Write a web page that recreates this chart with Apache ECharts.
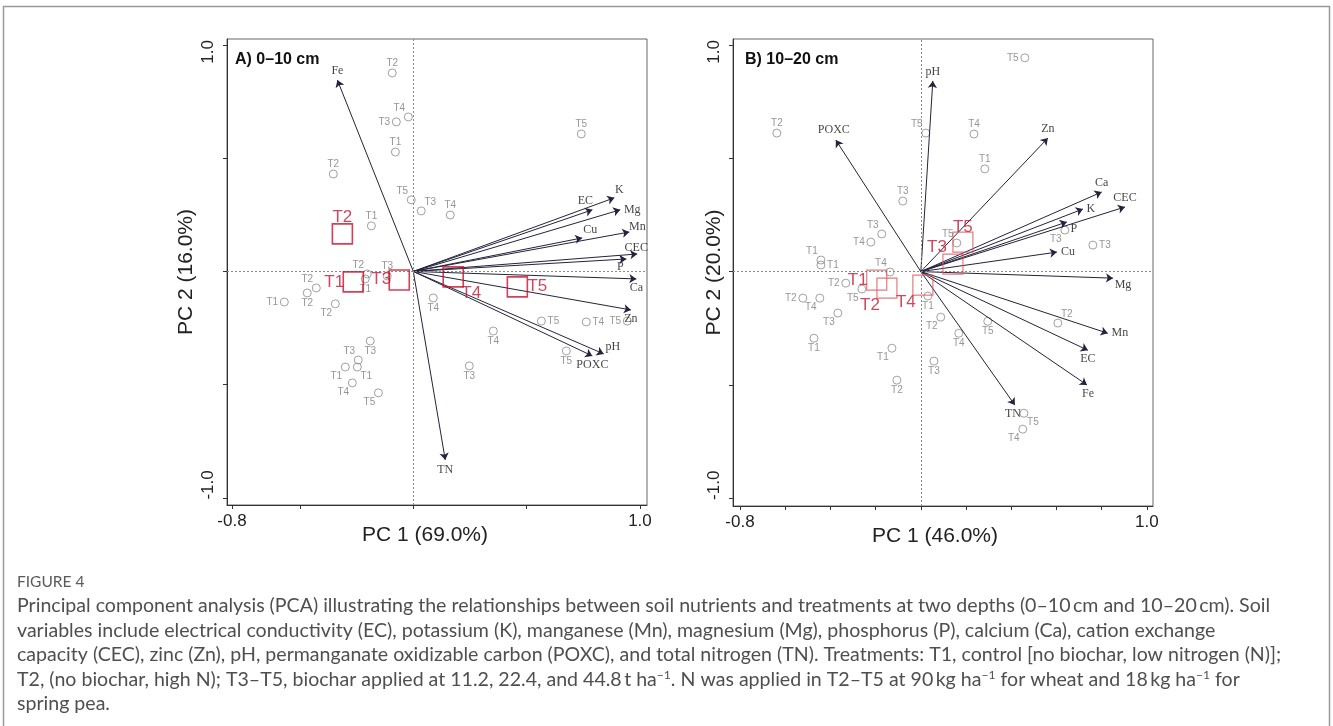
<!DOCTYPE html>
<html><head><meta charset="utf-8">
<script src="https://cdn.jsdelivr.net/npm/echarts@6/dist/echarts.min.js"></script>
<style>html,body{margin:0;padding:0;background:#fff}#c{width:1333px;height:726px}</style>
</head><body><div id="c"></div>
<script>
// ---------- Panel A (0–10 cm) ----------
const varNamesA = ['Fe','K','EC','Mg','Cu','Mn','CEC','P','Ca','Zn','pH','POXC','TN'];
const loadA1 = [-0.335,0.887,0.790,0.913,0.745,0.953,0.988,0.940,0.984,0.960,0.840,0.790,0.141];
const loadA2 = [0.845,0.325,0.272,0.272,0.148,0.174,0.077,0.055,-0.033,-0.170,-0.364,-0.373,-0.832];

const treatA = ['T2','T4','T3','T1','T2','T5','T3','T1','T4','T5','T2','T1','T3','T2','T2','T1','T2','T3','T3','T1','T1','T4','T5','T4','T4','T3','T5','T4','T5','T5'];
const pc1A = [-0.093,-0.022,-0.075,-0.079,-0.353,-0.009,0.035,-0.185,0.163,0.741,-0.203,-0.212,-0.115,-0.428,-0.468,-0.569,-0.344,-0.190,-0.243,-0.300,-0.247,-0.269,-0.154,0.088,0.353,0.247,0.565,0.763,0.944,0.675];
const pc2A = [0.876,0.682,0.660,0.527,0.430,0.316,0.267,0.201,0.249,0.607,-0.011,-0.033,-0.020,-0.073,-0.095,-0.135,-0.143,-0.307,-0.391,-0.422,-0.422,-0.492,-0.536,-0.117,-0.263,-0.417,-0.219,-0.223,-0.219,-0.351];

const centNames = ['T1','T2','T3','T4','T5'];
const centA1 = [-0.265,-0.313,-0.062,0.176,0.459];
const centA2 = [-0.046,0.166,-0.038,-0.024,-0.068];

// ---------- Panel B (10–20 cm) ----------
const varNamesB = ['pH','POXC','Zn','Ca','CEC','K','P','Cu','Mg','Mn','EC','Fe','TN'];
const loadB1 = [0.053,-0.376,0.562,0.800,0.903,0.717,0.646,0.602,0.850,0.827,0.739,0.735,0.416];
const loadB2 = [0.841,0.580,0.589,0.351,0.285,0.276,0.219,0.086,-0.029,-0.272,-0.347,-0.500,-0.589];

const treatB = ['T2','T5','T3','T3','T4','T1','T1','T4','T5','T4','T1','T5','T3','T3','T2','T5','T2','T4','T3','T1','T1','T2','T1','T2','T4','T3','T5','T2','T5','T4'];
const pc1B = [-0.637,0.022,-0.080,-0.173,-0.221,-0.442,-0.442,-0.137,0.460,0.235,0.283,0.159,0.637,0.761,-0.332,-0.261,-0.522,-0.447,-0.367,-0.473,-0.128,-0.106,0.031,0.088,0.168,0.058,0.296,0.606,0.456,0.451];
const pc2B = [0.611,0.611,0.311,0.166,0.130,0.051,0.029,-0.002,0.943,0.607,0.453,0.126,0.183,0.117,-0.051,-0.077,-0.117,-0.117,-0.183,-0.294,-0.338,-0.479,-0.108,-0.201,-0.272,-0.395,-0.219,-0.227,-0.625,-0.695];

const centB1 = [-0.195,-0.150,0.142,0.009,0.186];
const centB2 = [-0.038,-0.073,0.033,-0.060,0.130];

// ---------- axis ticks / labels ----------
const xTickValsA = [-0.8,-0.5,0,0.5,1.0];
const xTickValsB = [-0.8,-0.6,-0.4,-0.2,0,0.2,0.4,0.6,0.8,1.0];
const xLabelVals = [-0.8,1.0];
const yTickVals = [-1.0,-0.5,0,0.5,1.0];
const yLabelVals = [-1.0,1.0];
const axisNames = {ax:'PC 1 (69.0%)', ay:'PC 2 (16.0%)', bx:'PC 1 (46.0%)', by:'PC 2 (20.0%)'};
const panelTitles = ['A) 0–10 cm','B) 10–20 cm'];

// ---------- label placement (style only, px offsets) ----------
const varLabOffA = [[0,-9],[5,-8],[-7,-9],[12,0],[8,-8],[8,-5],[-1,-6],[-6,8],[0,9],[0,9],[9,-7],[0,9],[0,10]];
const varLabOffB = [[0,-9],[-2,-10],[0,-9],[0,-9],[0,-9],[8,0],[7,7],[11,0],[10,7],[12,0],[0,9],[1,9],[-2,9]];
const posA = ['t','tl','l','t','t','tl','tr','t','t','t','tl','b','t','tl','b','l','bl','b','tl','bl','br','bl','bl','b','b','b','r','r','l','b'];
const posB = ['t','tl','t','tl','l','tl','r','tl','l','t','t','tl','bl','r','l','bl','l','bl','bl','b','bl','b','b','bl','b','b','b','tr','br','bl'];
const centLabOffA = [[-19,0],[0,-17],[-18,-1],[18,16],[20,-1]];
const centLabOffB = [[-19,0],[-17,17],[-16,-17],[-17,17],[0,-15]];
const posMap = {t:[0,-10],b:[0,10],l:[-12,0],r:[12,0],tl:[-9,-9],tr:[9,-9],bl:[-9,9],br:[9,9]};

const SANS = 'Liberation Sans, Arial, sans-serif';
const SERIF = 'Liberation Serif, Times New Roman, serif';

function mkX(gi, min, max, name, ticks, shift){
  return {type:'value', gridIndex:gi, min, max,
    axisLine:{show:true, onZero:false, lineStyle:{color:'#333', width:1}},
    axisTick:{show:true, customValues:ticks, length:4, lineStyle:{color:'#333'}},
    axisLabel:{show:true, customValues:xLabelVals, formatter:v=>v.toFixed(1), fontSize:17, color:'#222', fontFamily:SANS, margin:8},
    splitLine:{show:false},
    name, nameLocation:'middle', nameGap:20, nameMoveOverlap:false,
    nameTextStyle:{fontSize:21, color:'#222', fontFamily:SANS, padding:[0,shift,0,0]}};
}
function mkY(gi, min, max, name, gap){
  return {type:'value', gridIndex:gi, min, max,
    axisLine:{show:true, onZero:false, lineStyle:{color:'#333', width:1}},
    axisTick:{show:true, customValues:yTickVals, length:4, lineStyle:{color:'#333'}},
    axisLabel:{show:true, customValues:yLabelVals, rotate:90, fontSize:17, color:'#222', fontFamily:SANS, margin:10,
      formatter:v=> v > 0 ? '{hi|' + v.toFixed(1) + '}' : '{lo|' + v.toFixed(1) + '}',
      rich:{hi:{fontSize:17, fontFamily:SANS, color:'#222', padding:[0,14,0,0]},
            lo:{fontSize:17, fontFamily:SANS, color:'#222', padding:[0,0,0,26]}}},
    splitLine:{show:false},
    name, nameLocation:'middle', nameGap:gap, nameMoveOverlap:false,
    nameTextStyle:{fontSize:21, color:'#222', fontFamily:SANS}};
}

function panelSeries(gi, vn, l1, l2, vOff, tr, p1, p2, pos, c1, c2, cOff, sqColor, sqWidth){
  const s = [];
  s.push({type:'scatter', xAxisIndex:gi, yAxisIndex:gi, symbol:'circle', symbolSize:8, z:2, silent:true,
    itemStyle:{color:'rgba(255,255,255,0)', borderColor:'#8a8a8a', borderWidth:1},
    label:{show:true, position:'inside', formatter:p=>p.name, fontSize:10, color:'#7a7a7a', fontFamily:SANS},
    data: tr.map((t,i)=>({name:t, value:[p1[i],p2[i]], label:{offset:posMap[pos[i]]}})),
    markLine:{silent:true, symbol:'none', animation:false, label:{show:false},
      lineStyle:{type:[2,2], color:'#8a8a8a', width:1}, data:[{xAxis:0},{yAxis:0}]}
  });
  s.push({type:'lines', coordinateSystem:'cartesian2d', xAxisIndex:gi, yAxisIndex:gi, z:3, silent:true,
    symbol:['none','arrow'], symbolSize:[0,7],
    lineStyle:{color:'#23233d', width:1, opacity:1},
    data: vn.map((n,i)=>({coords:[[0,0],[l1[i],l2[i]]]}))});
  s.push({type:'scatter', xAxisIndex:gi, yAxisIndex:gi, symbolSize:0.1, z:4, silent:true,
    itemStyle:{color:'rgba(0,0,0,0)'},
    label:{show:true, position:'inside', formatter:p=>p.name, fontSize:12, color:'#111', fontFamily:SERIF},
    data: vn.map((n,i)=>({name:n, value:[l1[i],l2[i]], label:{offset:vOff[i]}}))});
  s.push({type:'scatter', xAxisIndex:gi, yAxisIndex:gi, symbol:'rect', symbolSize:20, z:5, silent:true,
    itemStyle:{color:'rgba(255,255,255,0)', borderColor:sqColor, borderWidth:sqWidth},
    label:{show:true, position:'inside', formatter:p=>p.name, fontSize:17, color:'#c01a33', fontFamily:SANS},
    data: centNames.map((n,i)=>({name:n, value:[c1[i],c2[i]], label:{offset:cOff[i]}}))});
  return s;
}

// caption
const capTitle = 'FIGURE 4';
const capLines = [
 'Principal component analysis (PCA) illustrating the relationships between soil nutrients and treatments at two depths (0–10\u2009cm and 10–20\u2009cm). Soil',
 'variables include electrical conductivity (EC), potassium (K), manganese (Mn), magnesium (Mg), phosphorus (P), calcium (Ca), cation exchange',
 'capacity (CEC), zinc (Zn), pH, permanganate oxidizable carbon (POXC), and total nitrogen (TN). Treatments: T1, control [no biochar, low nitrogen (N)];',
 'T2, (no biochar, high N); T3–T5, biochar applied at 11.2, 22.4, and 44.8\u2009t ha{s|−1}. N was applied in T2–T5 at 90\u2009kg ha{s|−1} for wheat and 18\u2009kg ha{s|−1} for',
 'spring pea.'
];
const CAPFONT = 'Lato, Noto Sans, sans-serif';
// fit caption width to the reference's first line (about 1254 px wide)
const mctx = document.createElement('canvas').getContext('2d');
mctx.font = '16px Lato';
const capSize = Math.min(20, 16 * 1254 / mctx.measureText(capLines[0]).width);

const graphic = [
  {type:'rect', shape:{x:3.5, y:6.5, width:1326, height:760}, style:{fill:'none', stroke:'#9a9a9a', lineWidth:1.5}, silent:true},
  {type:'text', style:{x:235, y:60, text:panelTitles[0], font:'bold 16px '+SANS, fill:'#111', verticalAlign:'middle'}},
  {type:'text', style:{x:745, y:60, text:panelTitles[1], font:'bold 16px '+SANS, fill:'#111', verticalAlign:'middle'}},
  {type:'text', style:{x:17, y:582, text:capTitle, font:'15.5px '+CAPFONT, fill:'#5a5a5a', verticalAlign:'middle'}}
];
capLines.forEach((t,i)=>{
  graphic.push({type:'text', style:{x:17, y:606 + i*24.5, text:t, fill:'#4f4f4f', verticalAlign:'middle',
    fontSize:capSize, fontFamily:CAPFONT,
    rich:{s:{fontSize:capSize*0.62, fontFamily:CAPFONT, fill:'#4f4f4f', verticalAlign:'top', lineHeight:capSize*1.1}}}});
});

const option = {
  animation:false,
  backgroundColor:'#ffffff',
  grid:[
    {left:227, top:39, width:420, height:466, show:true, borderColor:'#666', borderWidth:1, backgroundColor:'rgba(0,0,0,0)'},
    {left:733, top:39, width:420, height:467, show:true, borderColor:'#666', borderWidth:1, backgroundColor:'rgba(0,0,0,0)'}
  ],
  xAxis:[mkX(0,-0.822,1.031,axisNames.ax,xTickValsA,24), mkX(1,-0.831,1.027,axisNames.bx,xTickValsB,16)],
  yAxis:[mkY(0,-1.031,1.026,axisNames.ay,30), mkY(1,-1.034,1.026,axisNames.by,8)],
  series:[
    ...panelSeries(0,varNamesA,loadA1,loadA2,varLabOffA,treatA,pc1A,pc2A,posA,centA1,centA2,centLabOffA,'#c8102e',1.6),
    ...panelSeries(1,varNamesB,loadB1,loadB2,varLabOffB,treatB,pc1B,pc2B,posB,centB1,centB2,centLabOffB,'#e0575f',1.2)
  ],
  graphic
};
const chart = echarts.init(document.getElementById('c'), null, {renderer:'canvas'});
chart.setOption(option);
</script></body></html>
